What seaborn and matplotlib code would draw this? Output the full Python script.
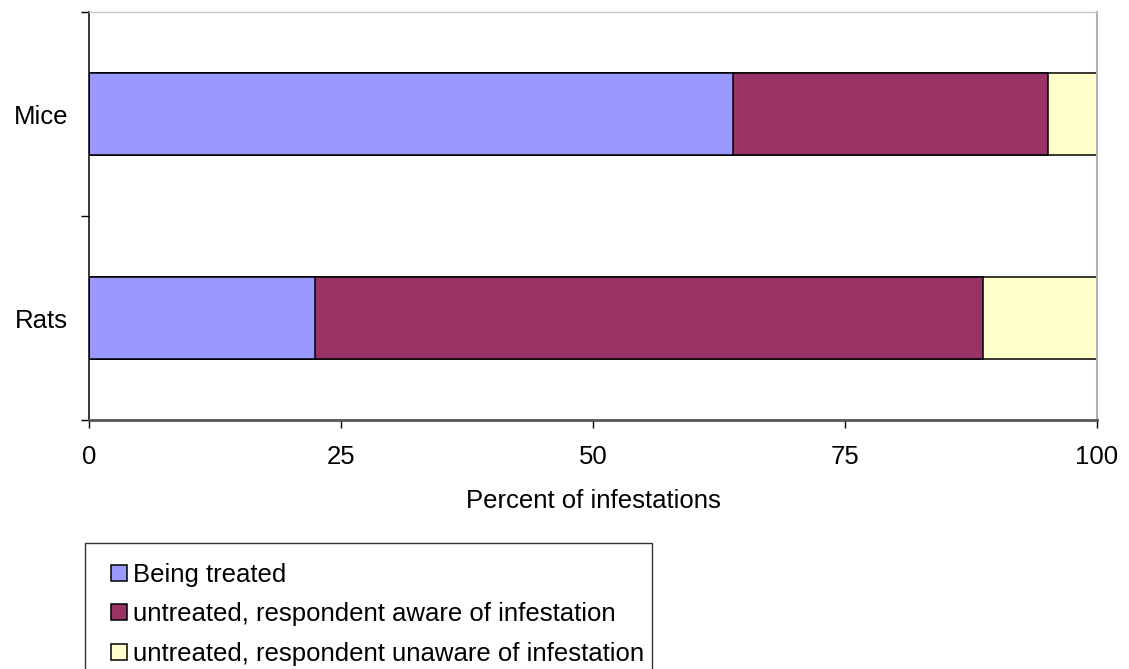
import numpy as np
import pandas as pd
import matplotlib
matplotlib.use("Agg")
import matplotlib.pyplot as plt
import seaborn as sns
from matplotlib.patches import Patch, Rectangle
from matplotlib.legend_handler import HandlerPatch

# ==================== DATA ====================

animals = ["Mice", "Rats"]
being_treated = [63.9, 22.4]
untreated_aware = [31.2, 66.3]
untreated_unaware = [4.9, 11.3]

series_names = [
    "Being treated",
    "untreated, respondent aware of infestation",
    "untreated, respondent unaware of infestation",
]
series_colors = ["#9999FF", "#993366", "#FFFFCC"]
x_ticks = [0, 25, 50, 75, 100]

# ==================== PLOT ====================

sns.set_style("white")
plt.rcParams["font.family"] = ["Liberation Sans", "DejaVu Sans"]
plt.rcParams["font.size"] = 18.5
plt.rcParams["text.color"] = "black"
plt.rcParams["axes.labelcolor"] = "black"
plt.rcParams["xtick.color"] = "black"
plt.rcParams["ytick.color"] = "black"

df = pd.DataFrame({
    "animal": animals,
    "treated": being_treated,
    "aware": untreated_aware,
    "unaware": untreated_unaware,
})
# cumulative ends so the bars can be stacked by overdrawing
df["end_treated"] = df["treated"]
df["end_aware"] = df["treated"] + df["aware"]
df["end_unaware"] = df["end_aware"] + df["unaware"]

fig = plt.figure(figsize=(11.29, 6.69), dpi=100)
ax = fig.add_axes([89 / 1129, 1 - 420 / 669, (1097 - 89) / 1129, (420 - 12) / 669])

ends = ["end_unaware", "end_aware", "end_treated"]
for col, color in zip(ends, series_colors[::-1]):
    sns.barplot(data=df, x=col, y="animal", order=animals, orient="h",
                color=color, edgecolor="black", linewidth=1.1, width=0.4,
                saturation=1, ax=ax)

ax.set_xlim(0, 100)
ax.set_ylim(1.5, -0.5)
ax.set_xticks(x_ticks)
ax.set_xticklabels([str(t) for t in x_ticks])
ax.set_yticks([0, 1])
ax.set_yticks([-0.5, 0.5, 1.5], minor=True)
ax.tick_params(axis="y", which="major", length=0, pad=15, labelsize=18.5)
ax.tick_params(axis="y", which="minor", length=5.8, width=1, color="black",
               direction="out", left=True)
ax.tick_params(axis="x", length=5.8, width=1, color="black", direction="out",
               bottom=True, pad=12, labelsize=18.5)
ax.set_ylabel("")
ax.set_xlabel("Percent of infestations", fontsize=18.5, labelpad=14.5)

ax.spines["left"].set_color("black")
ax.spines["left"].set_linewidth(1.1)
ax.spines["bottom"].set_color("#555555")
ax.spines["bottom"].set_linewidth(2)
ax.spines["top"].set_color("#c8c8c8")
ax.spines["right"].set_color("#b0b0b0")
ax.spines["top"].set_linewidth(1)
ax.spines["right"].set_linewidth(1.5)


# legend squares sit at the right end of the handle box, close to the text
def square_right(legend, orig_handle, xdescent, ydescent, width, height, fontsize):
    side = 0.62 * fontsize
    return Rectangle((width - side - xdescent, -ydescent + (height - side) / 2),
                     side, side)


handles = [Patch(facecolor=c, edgecolor="black", linewidth=1.1) for c in series_colors]
leg = fig.legend(handles, series_names,
                 loc="upper left",
                 bbox_to_anchor=(85 / 1129, 1 - 550 / 669, (652 - 85) / 1129, 0.01),
                 mode="expand", frameon=True, fancybox=False, fontsize=18.5,
                 handlelength=0.87, handleheight=0.62, handletextpad=0.23,
                 labelspacing=0.61, borderpad=0.75, borderaxespad=0,
                 handler_map={Patch: HandlerPatch(patch_func=square_right)})
leg.get_frame().set_edgecolor("black")
leg.get_frame().set_linewidth(1)

fig.savefig("out.png", dpi=100)
